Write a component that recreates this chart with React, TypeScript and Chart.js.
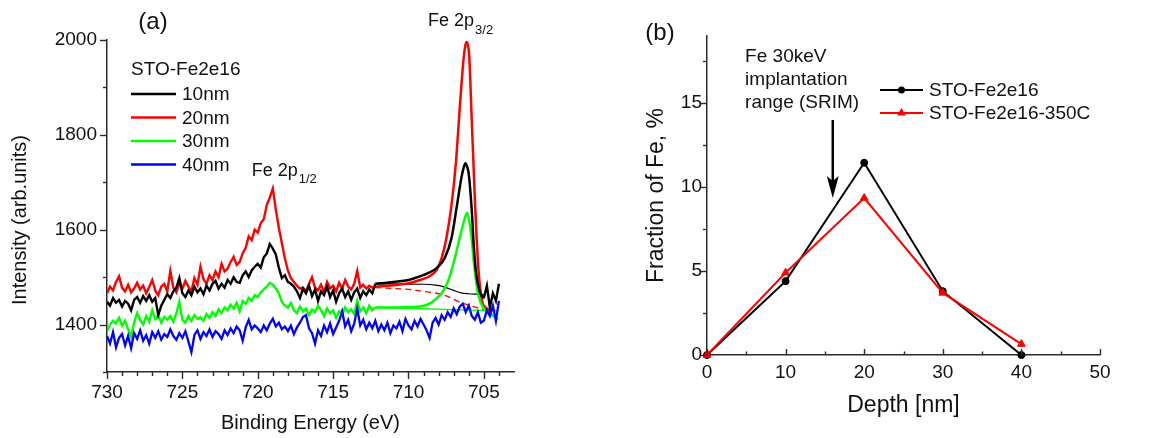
import React, { useEffect, useRef } from "react";
import { Chart, registerables } from "chart.js";

Chart.register(...registerables);

const FONT = '"Liberation Sans", Arial, Helvetica, sans-serif';
const AXIS_COLOR = "#2b2b2b";
const TEXT_COLOR = "#111111";

// ---------------- Panel (a): XPS Fe 2p spectra ----------------
const energyGrid = [
  730, 729.8, 729.6, 729.4, 729.2, 729, 728.8, 728.6, 728.4, 728.2,
  728, 727.8, 727.6, 727.4, 727.2, 727, 726.8, 726.6, 726.4, 726.2,
  726, 725.8, 725.6, 725.4, 725.2, 725, 724.8, 724.6, 724.4, 724.2,
  724, 723.8, 723.6, 723.4, 723.2, 723, 722.8, 722.6, 722.4, 722.2,
  722, 721.8, 721.6, 721.4, 721.2, 721, 720.8, 720.6, 720.4, 720.2,
  720, 719.8, 719.6, 719.4, 719.2, 719, 718.8, 718.6, 718.4, 718.2,
  718, 717.8, 717.6, 717.4, 717.2, 717, 716.8, 716.6, 716.4, 716.2,
  716, 715.8, 715.6, 715.4, 715.2, 715, 714.8, 714.6, 714.4, 714.2,
  714, 713.8, 713.6, 713.4, 713.2, 713, 712.8, 712.6, 712.4, 712.2,
  712, 711.8, 711.6, 711.4, 711.2, 711, 710.8, 710.6, 710.4, 710.2,
  710, 709.8, 709.6, 709.4, 709.2, 709, 708.8, 708.6, 708.4, 708.2,
  708, 707.8, 707.6, 707.4, 707.2, 707, 706.8, 706.6, 706.4, 706.2,
  706, 705.8, 705.6, 705.4, 705.2, 705, 704.8, 704.6, 704.4, 704.2,
  704,
];

const raw20nm = [
  1466, 1480, 1472, 1490, 1502, 1478, 1470, 1484, 1468, 1476,
  1488, 1474, 1482, 1466, 1479, 1494, 1472, 1462, 1480, 1486,
  1470, 1513, 1478, 1468, 1488, 1476, 1492, 1480, 1470, 1498,
  1484, 1522, 1496, 1486, 1504, 1494, 1512, 1500, 1528, 1512,
  1518, 1532, 1543, 1526, 1532, 1550, 1562, 1586, 1578, 1600,
  1594, 1614, 1622, 1652, 1668, 1687, 1642, 1604, 1572, 1540,
  1514, 1498, 1490, 1482, 1476, 1478, 1470, 1486, 1500, 1478,
  1472, 1484, 1468, 1490, 1476, 1482, 1470, 1488, 1476, 1494,
  1480, 1474, 1486, 1513, 1478, 1484, 1476, 1482, 1478, 1480,
];

const raw10nm = [
  1448, 1440, 1456, 1446, 1452, 1438, 1450, 1444, 1430, 1452,
  1458, 1446, 1460, 1450, 1462, 1448, 1456, 1420, 1440, 1452,
  1464, 1456, 1470, 1478, 1498, 1466, 1458, 1472, 1462, 1480,
  1468, 1476, 1464, 1482, 1472, 1486, 1492, 1476, 1486, 1478,
  1494, 1486, 1500, 1490, 1488, 1504, 1512, 1500, 1514, 1522,
  1528, 1520, 1542, 1550, 1570, 1560, 1548, 1520, 1498, 1504,
  1490, 1486, 1480, 1470, 1456, 1476, 1466, 1482, 1460, 1474,
  1450, 1470, 1462, 1480, 1458, 1472, 1448, 1466, 1476, 1458,
  1470, 1452, 1468, 1476, 1456, 1470, 1462, 1474, 1466, 1486,
];

const raw30nm = [
  1386, 1400, 1408, 1402, 1414, 1398, 1408, 1390, 1374, 1404,
  1424, 1410, 1400, 1418, 1406, 1430, 1412, 1420, 1404, 1416,
  1410, 1418, 1406, 1424, 1448, 1410, 1404, 1418, 1408, 1420,
  1412, 1416, 1408, 1422, 1414, 1426, 1418, 1432, 1424, 1436,
  1430, 1442, 1434, 1446, 1428, 1450, 1444, 1456, 1450, 1462,
  1458, 1468, 1474, 1480, 1488, 1484, 1476, 1466, 1448, 1440,
  1436, 1446, 1430, 1424, 1438, 1428, 1434, 1420, 1432, 1426,
  1440, 1430, 1418, 1434, 1424, 1430, 1414, 1428, 1420, 1436,
  1426, 1432, 1422, 1450, 1428, 1436, 1424, 1440, 1430, 1436,
];

const raw40nm = [
  1376, 1360, 1384, 1352, 1372, 1380, 1356, 1376, 1350, 1382,
  1370, 1388, 1366, 1378, 1360, 1384, 1372, 1386, 1368, 1380,
  1374, 1390, 1376, 1368, 1382, 1372, 1386, 1364, 1342, 1378,
  1388, 1370, 1384, 1376, 1390, 1374, 1386, 1380, 1370, 1388,
  1378, 1392, 1382, 1396, 1388, 1366, 1394, 1410, 1390, 1398,
  1392, 1384, 1398, 1388, 1402, 1412, 1396, 1404, 1390, 1396,
  1386, 1398, 1380, 1394, 1404, 1416, 1420, 1392, 1382, 1360,
  1388, 1376, 1398, 1384, 1402, 1380, 1394, 1408, 1428, 1396,
  1410, 1386, 1402, 1434, 1398, 1410, 1390, 1404, 1392, 1408,
  1386, 1400, 1388, 1404, 1382, 1398, 1392, 1406, 1386, 1412,
  1398, 1390, 1408, 1396, 1412, 1400, 1388, 1372, 1404, 1414,
  1400, 1420, 1410, 1426, 1416, 1434, 1422, 1438, 1444, 1426,
  1440, 1418, 1410, 1426, 1404, 1408, 1430, 1418, 1440, 1408,
  1450,
];

// tail of the 10 nm raw spectrum after the 2p3/2 peak
const tailEnergy10nm = [705.0, 704.8, 704.6, 704.4, 704.2, 704.0];
const tail10nm = [1456, 1482, 1436, 1466, 1450, 1486];

// fitted 2p3/2 envelopes
const fitEnergy20nm = [712.2, 711, 710, 709.24, 708.6, 708.14, 707.8, 707.48, 707.14, 706.86, 706.59, 706.37, 706.25, 706.15, 706.05, 705.97, 705.82, 705.6, 705.38, 705.15, 704.82, 704.45];
const fit20nm = [1480, 1483, 1487, 1494, 1502, 1515, 1540, 1583, 1654, 1739, 1860, 1952, 1985, 1996, 1988, 1966, 1846, 1668, 1526, 1455, 1434, 1430];

const fitEnergy10nm = [712.2, 711, 710, 709.2, 708.6, 708.1, 707.6, 707.14, 706.77, 706.48, 706.3, 706.22, 706.1, 706.0, 705.8, 705.66, 705.5, 705.27, 705.0];
const fit10nm = [1486, 1490, 1494, 1502, 1510, 1520, 1540, 1583, 1654, 1711, 1735, 1740, 1732, 1717, 1640, 1562, 1505, 1469, 1455];

const fitEnergy30nm = [712.2, 711, 710, 709.24, 708.6, 708.14, 707.8, 707.48, 707.2, 706.92, 706.7, 706.48, 706.3, 706.11, 705.95, 705.82, 705.6, 705.38, 705.05, 704.6, 704.05];
const fit30nm = [1436, 1436, 1437, 1438, 1444, 1455, 1466, 1484, 1508, 1541, 1570, 1598, 1620, 1636, 1614, 1583, 1512, 1464, 1436, 1424, 1411];

// backgrounds under the fitted peaks
const bgEnergy10nm = [712.2, 709, 708.2, 707.6, 707.0, 706.5, 706.0, 705.5, 705.0];
const bg10nm = [1486, 1485, 1483, 1479, 1472, 1467, 1465, 1464, 1463];
const bgEnergy20nm = [712.2, 710, 709, 708, 707.3, 706.8, 706.2, 705.5, 704.8, 704.45];
const bg20nm = [1478, 1474, 1470, 1465, 1458, 1450, 1443, 1436, 1430, 1428];
const bgEnergy30nm = [712.2, 704.05];
const bg30nm = [1436, 1429];

const legendLabelsA = ["10nm", "20nm", "30nm", "40nm"];
const legendColorsA = ["#000000", "#ff0000", "#00ff00", "#0000ff"];

const xMajorA = [730, 725, 720, 715, 710, 705];
const xMinorA = [729, 728, 727, 726, 724, 723, 722, 721, 719, 718, 717, 716, 714, 713, 712, 711, 709, 708, 707, 706, 704];
const yMajorA = [1400, 1600, 1800, 2000];
const yMinorA = [1300, 1500, 1700, 1900];

// ---------------- Panel (b): Fe depth profile ----------------
const depthNm = [0, 10, 20, 30, 40];
const fractionAsImplanted = [0, 4.4, 11.45, 3.8, 0];
const fractionAnnealed = [0, 4.9, 9.35, 3.7, 0.65];
const seriesNamesB = ["STO-Fe2e16", "STO-Fe2e16-350C"];

const xMajorB = [0, 10, 20, 30, 40, 50];
const xMinorB = [5, 15, 25, 35, 45];
const yMajorB = [0, 5, 10, 15];
const yMinorB = [2.5, 7.5, 12.5, 17.5];

const annotationLinesB = ["Fe 30keV", "implantation", "range (SRIM)"];

// ---------------- helpers ----------------
const zip = (xs: number[], ys: number[]) => ys.map((y, i) => ({ x: xs[i], y }));

function tickPlugin(specs: any[]) {
  return {
    id: "manualTicks",
    afterDraw(chart: any) {
      const ctx = chart.ctx;
      ctx.save();
      ctx.strokeStyle = AXIS_COLOR;
      ctx.lineWidth = 1.4;
      for (const spec of specs) {
        const scale = chart.scales[spec.id];
        const draw = (v: number, len: number) => {
          const p = Math.round(scale.getPixelForValue(v)) + 0.5;
          ctx.beginPath();
          if (scale.isHorizontal()) {
            const y = scale.top;
            const dir = spec.inside ? -1 : 1;
            ctx.moveTo(p, y);
            ctx.lineTo(p, y + dir * len);
          } else {
            const x = scale.right;
            const dir = spec.inside ? 1 : -1;
            ctx.moveTo(x, p);
            ctx.lineTo(x + dir * len, p);
          }
          ctx.stroke();
        };
        spec.major.forEach((v: number) => draw(v, spec.majorLen));
        spec.minor.forEach((v: number) => draw(v, spec.minorLen));
      }
      ctx.restore();
    },
  };
}

function drawSubLabel(ctx: CanvasRenderingContext2D, main: string, sub: string, x: number, y: number) {
  ctx.font = `18px ${FONT}`;
  ctx.textAlign = "left";
  ctx.textBaseline = "middle";
  ctx.fillText(main, x, y);
  const w = ctx.measureText(main).width;
  ctx.font = `13px ${FONT}`;
  ctx.fillText(sub, x + w + 1, y + 9);
}

function axisCommon(tickLength: number, padding: number, size: number) {
  return {
    grid: {
      display: true,
      drawOnChartArea: false,
      drawTicks: true,
      tickLength,
      color: "rgba(0,0,0,0)",
    },
    border: { display: true, color: AXIS_COLOR, width: 1.5 },
    ticks: {
      font: { size, family: FONT },
      color: TEXT_COLOR,
      padding,
      maxRotation: 0,
      autoSkip: false,
      callback: (v: any) => String(v),
    },
  };
}

function buildA(canvas: HTMLCanvasElement) {
  const line = (data: any[], color: string, width: number, extra: any = {}) => ({
    data,
    borderColor: color,
    backgroundColor: color,
    borderWidth: width,
    pointRadius: 0,
    fill: false,
    tension: 0,
    ...extra,
  });
  const smooth = { cubicInterpolationMode: "monotone" };
  const datasets = [
    line(zip(energyGrid, raw40nm), "#0000ff", 2.3),
    line(zip(tailEnergy10nm, tail10nm), "#000000", 2.4),
    line(zip(energyGrid, raw10nm), "#000000", 2.4),
    line(zip(fitEnergy10nm, fit10nm), "#000000", 2.5, smooth),
    line(zip(fitEnergy30nm, fit30nm), "#00ff00", 2.5, smooth),
    line(zip(energyGrid, raw30nm), "#00ff00", 2.4),
    line(zip(energyGrid, raw20nm), "#ff0000", 2.4),
    line(zip(fitEnergy20nm, fit20nm), "#ff0000", 2.5, smooth),
    line(zip(bgEnergy10nm, bg10nm), "#000000", 1.2, smooth),
    line(zip(bgEnergy20nm, bg20nm), "#ff0000", 1.3, { ...smooth, borderDash: [6, 4] }),
    line(zip(bgEnergy30nm, bg30nm), "#00ff00", 1.3),
  ];

  const annot = {
    id: "annotA",
    afterDraw(chart: any) {
      const ctx = chart.ctx as CanvasRenderingContext2D;
      const xs = chart.scales.x;
      const ys = chart.scales.y;
      ctx.save();
      ctx.fillStyle = TEXT_COLOR;
      ctx.font = `24px ${FONT}`;
      ctx.textAlign = "center";
      ctx.textBaseline = "middle";
      ctx.fillText("(a)", 153, 22);

      // y-axis title (placed as in the original figure, slightly below centre)
      ctx.save();
      ctx.translate(20, 220);
      ctx.rotate(-Math.PI / 2);
      ctx.font = `20px ${FONT}`;
      ctx.textAlign = "center";
      ctx.textBaseline = "middle";
      ctx.fillText("Intensity (arb.units)", 0, 0);
      ctx.restore();

      drawSubLabel(ctx, "Fe 2p", "3/2", xs.getPixelForValue(708.7), ys.getPixelForValue(2040));
      drawSubLabel(ctx, "Fe 2p", "1/2", xs.getPixelForValue(720.4), ys.getPixelForValue(1724));

      // legend
      ctx.font = `19px ${FONT}`;
      ctx.textAlign = "left";
      ctx.textBaseline = "middle";
      ctx.fillText("STO-Fe2e16", 131, 70);
      legendLabelsA.forEach((lab, i) => {
        const y = 94 + i * 23.5;
        ctx.strokeStyle = legendColorsA[i];
        ctx.lineWidth = 2.5;
        ctx.beginPath();
        ctx.moveTo(131, y);
        ctx.lineTo(176, y);
        ctx.stroke();
        ctx.fillStyle = TEXT_COLOR;
        ctx.fillText(lab, 182, y + 1);
      });
      ctx.restore();
    },
  };

  return new Chart(canvas, {
    type: "line",
    data: { datasets } as any,
    options: {
      animation: false,
      responsive: false,
      events: [],
      layout: { padding: { top: 40, right: 71, bottom: 0, left: 0 } },
      plugins: { legend: { display: false }, tooltip: { enabled: false } },
      scales: {
        x: {
          type: "linear",
          reverse: true,
          min: 703,
          max: 730,
          afterBuildTicks: (s: any) => {
            s.ticks = xMajorA.map((v) => ({ value: v }));
          },
          afterFit: (s: any) => {
            s.height = 66;
          },
          ...axisCommon(7, 2, 19),
          title: {
            display: true,
            text: "Binding Energy (eV)",
            font: { size: 20, family: FONT },
            color: TEXT_COLOR,
            padding: { top: 0, bottom: 3 },
          },
        },
        y: {
          type: "linear",
          min: 1300,
          max: 2000,
          afterBuildTicks: (s: any) => {
            s.ticks = yMajorA.map((v) => ({ value: v }));
          },
          afterFit: (s: any) => {
            s.width = 107;
          },
          ...axisCommon(7, 3, 19),
          title: { display: false },
        },
      },
    } as any,
    plugins: [
      tickPlugin([
        { id: "x", major: xMajorA, minor: xMinorA, majorLen: 7, minorLen: 4, inside: false },
        { id: "y", major: yMajorA, minor: yMinorA, majorLen: 7, minorLen: 4, inside: false },
      ]),
      annot,
    ],
  });
}

function buildB(canvas: HTMLCanvasElement) {
  const datasets = [
    {
      data: zip(depthNm, fractionAnnealed),
      borderColor: "#ff0000",
      backgroundColor: "#ff0000",
      borderWidth: 2,
      pointStyle: "triangle",
      pointRadius: 4.5,
      pointBorderWidth: 1,
      tension: 0,
      clip: false,
    },
    {
      data: zip(depthNm, fractionAsImplanted),
      borderColor: "#000000",
      backgroundColor: "#000000",
      borderWidth: 2,
      pointStyle: "circle",
      pointRadius: 3.5,
      pointBorderWidth: 1,
      tension: 0,
      clip: false,
    },
  ];

  const annot = {
    id: "annotB",
    afterDraw(chart: any) {
      const ctx = chart.ctx as CanvasRenderingContext2D;
      const xs = chart.scales.x;
      const ys = chart.scales.y;
      ctx.save();
      ctx.fillStyle = TEXT_COLOR;
      ctx.font = `24px ${FONT}`;
      ctx.textAlign = "center";
      ctx.textBaseline = "middle";
      ctx.fillText("(b)", 75, 33);

      // implantation range annotation
      ctx.font = `19px ${FONT}`;
      ctx.textAlign = "left";
      const tx = xs.getPixelForValue(4.85);
      const lineY = [17.75, 16.38, 15.0];
      annotationLinesB.forEach((t, i) => ctx.fillText(t, tx, ys.getPixelForValue(lineY[i])));

      const ax = xs.getPixelForValue(16);
      const ay0 = ys.getPixelForValue(14.0);
      const ay1 = ys.getPixelForValue(9.35);
      ctx.strokeStyle = "#000";
      ctx.fillStyle = "#000";
      ctx.lineWidth = 2.5;
      ctx.beginPath();
      ctx.moveTo(ax, ay0);
      ctx.lineTo(ax, ay1 - 16);
      ctx.stroke();
      ctx.beginPath();
      ctx.moveTo(ax, ay1);
      ctx.lineTo(ax - 6, ay1 - 22);
      ctx.lineTo(ax, ay1 - 17);
      ctx.lineTo(ax + 6, ay1 - 22);
      ctx.closePath();
      ctx.fill();

      // legend
      const lx0 = 295;
      const lx1 = 338;
      const rows = [90, 113];
      const colors = ["#000000", "#ff0000"];
      rows.forEach((y, i) => {
        ctx.strokeStyle = colors[i];
        ctx.fillStyle = colors[i];
        ctx.lineWidth = 2;
        ctx.beginPath();
        ctx.moveTo(lx0, y);
        ctx.lineTo(lx1, y);
        ctx.stroke();
        const mx = (lx0 + lx1) / 2;
        ctx.beginPath();
        if (i === 0) {
          ctx.arc(mx, y, 3.5, 0, Math.PI * 2);
        } else {
          ctx.moveTo(mx, y - 5);
          ctx.lineTo(mx + 4.5, y + 2.5);
          ctx.lineTo(mx - 4.5, y + 2.5);
          ctx.closePath();
        }
        ctx.fill();
        ctx.fillStyle = TEXT_COLOR;
        ctx.font = `19px ${FONT}`;
        ctx.textAlign = "left";
        ctx.textBaseline = "middle";
        ctx.fillText(seriesNamesB[i], 344, y + 1);
      });
      ctx.restore();
    },
  };

  return new Chart(canvas, {
    type: "line",
    data: { datasets } as any,
    options: {
      animation: false,
      responsive: false,
      events: [],
      layout: { padding: { top: 36, right: 70, bottom: 0, left: 0 } },
      plugins: { legend: { display: false }, tooltip: { enabled: false } },
      scales: {
        x: {
          type: "linear",
          min: 0,
          max: 50,
          afterBuildTicks: (s: any) => {
            s.ticks = xMajorB.map((v) => ({ value: v }));
          },
          afterFit: (s: any) => {
            s.height = 83;
          },
          ...axisCommon(5, 1, 19),
          title: {
            display: true,
            text: "Depth [nm]",
            font: { size: 23, family: FONT },
            color: TEXT_COLOR,
            padding: { top: 0, bottom: 19 },
          },
        },
        y: {
          type: "linear",
          min: 0,
          max: 19,
          afterBuildTicks: (s: any) => {
            s.ticks = yMajorB.map((v) => ({ value: v }));
          },
          afterFit: (s: any) => {
            s.width = 122;
          },
          ...axisCommon(5, 0, 19),
          title: {
            display: true,
            text: "Fraction of Fe, %",
            font: { size: 23, family: FONT },
            color: TEXT_COLOR,
            padding: { top: 58, bottom: 0 },
          },
        },
      },
    } as any,
    plugins: [
      tickPlugin([
        { id: "x", major: xMajorB, minor: xMinorB, majorLen: 6, minorLen: 3.5, inside: true },
        { id: "y", major: yMajorB, minor: yMinorB, majorLen: 6, minorLen: 4, inside: false },
      ]),
      annot,
    ],
  });
}

export default function App() {
  const refA = useRef<HTMLCanvasElement>(null);
  const refB = useRef<HTMLCanvasElement>(null);
  useEffect(() => {
    const a = buildA(refA.current as HTMLCanvasElement);
    const b = buildB(refB.current as HTMLCanvasElement);
    return () => {
      a.destroy();
      b.destroy();
    };
  }, []);
  return (
    <div style={{ position: "absolute", left: 0, top: 0, width: 1170, height: 438, background: "#ffffff", overflow: "hidden" }}>
      <canvas ref={refA} width={585} height={438} style={{ position: "absolute", left: 0, top: 0, width: 585, height: 438 }} />
      <canvas ref={refB} width={585} height={438} style={{ position: "absolute", left: 585, top: 0, width: 585, height: 438 }} />
    </div>
  );
}
